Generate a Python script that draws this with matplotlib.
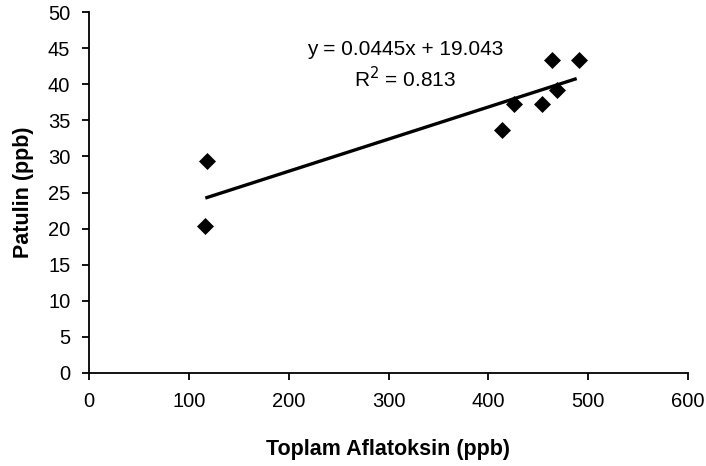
import matplotlib
matplotlib.use("Agg")
import matplotlib.pyplot as plt
import numpy as np

plt.rcParams['font.family'] = ['Liberation Sans', 'DejaVu Sans']

# Total aflatoxin vs patulin (ppb)
aflatoxin = [118, 116.5, 414, 426, 454, 464, 469, 490.5]
patulin = [29.3, 20.4, 33.7, 37.3, 37.3, 43.4, 39.2, 43.4]

# Linear trendline
slope = 0.0445
intercept = 19.043
r_squared = 0.813

W, H = 706, 466
fig = plt.figure(figsize=(W / 100, H / 100), dpi=100)
left, right, top, bottom = 89, 688, 12, 373
ax = fig.add_axes([left / W, 1 - bottom / H, (right - left) / W, (bottom - top) / H])

ax.scatter(aflatoxin, patulin, marker='D', s=75, color='black', linewidths=0, zorder=3)

xs = np.array([min(aflatoxin), max(aflatoxin) - 2])
ax.plot(xs, slope * xs + intercept, color='black', lw=2.4, solid_capstyle='butt', zorder=2)

ax.text(317, 44.8, f"y = {slope}x + {intercept}", ha='center', va='center', fontsize=15)
ax.text(317, 40.8, f"R$^2$ = {r_squared}", ha='center', va='center', fontsize=15)

ax.set_xlim(0, 600)
ax.set_ylim(0, 50)
ax.set_xticks(np.arange(0, 601, 100))
ax.set_yticks(np.arange(0, 51, 5))
ax.tick_params(direction='out', length=5, width=1.3, labelsize=14.5, colors='black', pad=8.5)
for side in ('top', 'right'):
    ax.spines[side].set_visible(False)
for side in ('left', 'bottom'):
    ax.spines[side].set_linewidth(1.3)

ax.set_xlabel("Toplam Aflatoksin (ppb)", fontsize=15.5, fontweight='bold', va='center')
ax.set_ylabel("Patulin (ppb)", fontsize=15.5, fontweight='bold', va='center')
ax.xaxis.set_label_coords((388 - left) / (right - left), (bottom - 449) / (bottom - top))
ax.yaxis.set_label_coords((24 - left) / (right - left), 0.5)

fig.savefig("out.png", dpi=100)
